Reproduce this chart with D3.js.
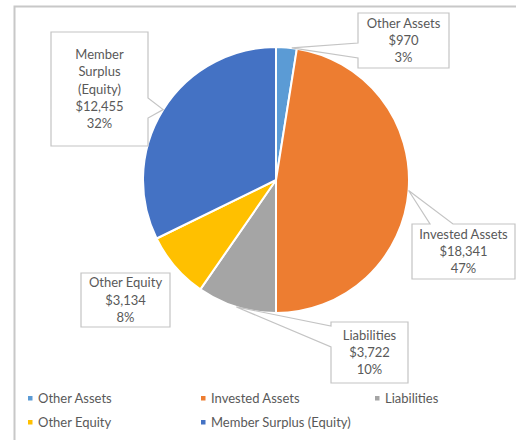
<!DOCTYPE html>
<html><head><meta charset="utf-8">
<script src="https://cdn.jsdelivr.net/npm/d3@7"></script>
<style>html,body{margin:0;padding:0;background:#fff;}svg{display:block;}</style>
</head><body>
<svg id="chart" width="520" height="440"></svg>
<script>
const categories = ["Other Assets", "Invested Assets", "Liabilities", "Other Equity", "Member Surplus (Equity)"];
const values = [970, 18341, 3722, 3134, 12455];
const percentLabels = ["3%", "47%", "10%", "8%", "32%"];
const labelLines = [["Other Assets"], ["Invested Assets"], ["Liabilities"], ["Other Equity"], ["Member", "Surplus", "(Equity)"]];
const colors = ["#5B9BD5", "#ED7D31", "#A5A5A5", "#FFC000", "#4472C4"];

const svg = d3.select("#chart");
const font = "Lato, 'Open Sans', sans-serif";
const textColor = "#595959";

// outer frame
svg.append("path").attr("d", "M14.5,440 L14.5,6.5 L516,6.5")
  .attr("fill", "none").attr("stroke", "#c8c8c8").attr("stroke-width", 2);

const cx = 276, cy = 180, R = 133;
const pie = d3.pie().sort(null).value(d => d)(values);
const arc = d3.arc().innerRadius(0).outerRadius(R);
const g = svg.append("g").attr("transform", `translate(${cx},${cy})`);
g.selectAll("path").data(pie).join("path")
  .attr("d", arc).attr("fill", (d, i) => colors[i])
  .attr("stroke", "#fff").attr("stroke-width", 2).attr("stroke-linejoin", "round");

const fmt = d3.format("$,");
// callout boxes: [x0,y0,x1,y1], pointer side, base positions along side, apex angle offset
const boxes = [
  {b: [358, 13, 449, 68], side: "left", base: [43, 58], off: 0.04},
  {b: [412, 224, 515, 279], side: "top", base: [430, 453], off: 0},
  {b: [331, 322, 408, 383], side: "left", base: [326, 347], off: 0},
  {b: [81, 273, 170, 327], side: "none", base: [0, 0], off: 0},
  {b: [51, 32, 148, 146], side: "right", base: [98, 118], off: 0}
];

function calloutPath(bx, apex) {
  const [x0, y0, x1, y1] = bx.b;
  const [a, b] = bx.base;
  const [ax, ay] = apex;
  let pts;
  if (bx.side === "left") pts = [[x0, y0], [x1, y0], [x1, y1], [x0, y1], [x0, b], [ax, ay], [x0, a]];
  else if (bx.side === "right") pts = [[x0, y0], [x1, y0], [x1, a], [ax, ay], [x1, b], [x1, y1], [x0, y1]];
  else if (bx.side === "top") pts = [[x0, y0], [a, y0], [ax, ay], [b, y0], [x1, y0], [x1, y1], [x0, y1]];
  else pts = [[x0, y0], [x1, y0], [x1, y1], [x0, y1]];
  return "M" + pts.map(p => p.join(",")).join("L") + "Z";
}

const labels = svg.append("g");
pie.forEach((d, i) => {
  const bx = boxes[i];
  const mid = (d.startAngle + d.endAngle) / 2 + bx.off;
  const apex = [cx + R * Math.sin(mid), cy - R * Math.cos(mid)];
  labels.append("path").attr("d", calloutPath(bx, apex))
    .attr("fill", "#fff").attr("stroke", "#c4c4c4").attr("stroke-width", 1.2);
  const lines = [...labelLines[i], fmt(values[i]), percentLabels[i]];
  const lh = 17.2;
  const [x0, y0, x1, y1] = bx.b;
  const midX = (x0 + x1) / 2, midY = (y0 + y1) / 2;
  const startY = midY - (lines.length - 1) * lh / 2;
  const t = labels.append("text").attr("font-family", font).attr("font-size", 13)
    .attr("fill", textColor).attr("text-anchor", "middle");
  lines.forEach((ln, k) => {
    t.append("tspan").attr("x", midX).attr("y", startY + k * lh).attr("dy", "0.35em").text(ln);
  });
});

// legend
const legX = [30, 203, 377];
const legY = [398, 422];
const leg = svg.append("g");
categories.forEach((c, i) => {
  const x = legX[i % 3], y = legY[Math.floor(i / 3)];
  leg.append("rect").attr("x", x - 2).attr("y", y - 2).attr("width", 4.5).attr("height", 4.5).attr("fill", colors[i]);
  leg.append("text").attr("x", x + 8).attr("y", y).attr("dy", "0.35em")
    .attr("font-family", font).attr("font-size", 13).attr("fill", textColor).text(c);
});
</script>
</body></html>
